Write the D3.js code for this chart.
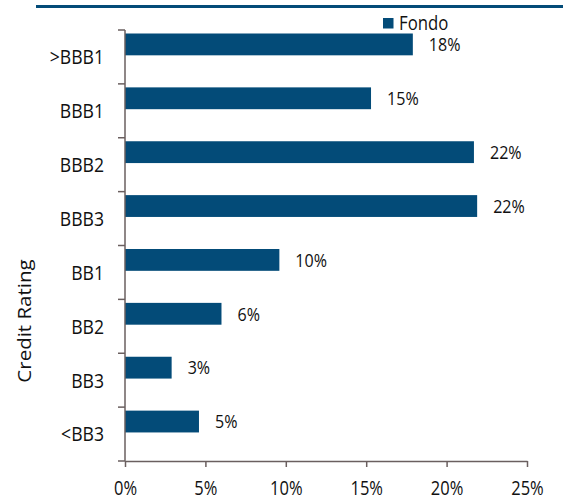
<!DOCTYPE html>
<html>
<head>
<meta charset="utf-8">
<script src="https://cdn.jsdelivr.net/npm/d3@7"></script>
<style>
  html, body { margin: 0; padding: 0; background: #fff; }
  svg { display: block; font-family: "Open Sans", sans-serif; }
</style>
</head>
<body>
<svg id="chart" width="563" height="501"></svg>
<script>
// Portfolio breakdown by credit rating
const categories = [">BBB1", "BBB1", "BBB2", "BBB3", "BB1", "BB2", "BB3", "<BB3"];
const fondo = [17.9, 15.3, 21.7, 21.9, 9.6, 6.0, 2.9, 4.6];
const xTicks = [0, 5, 10, 15, 20, 25];
const seriesName = "Fondo";
const axisTitle = "Credit Rating";

const barColor = "#034b78";
const axisColor = "#6a5f5f";
const textColor = "#111";
const squeeze = 0.86; // narrow text horizontally

const svg = d3.select("#chart");
const margin = { left: 125, right: 36, top: 30, bottom: 40 };
const W = 563, H = 501;

const x = d3.scaleLinear().domain([0, 25]).range([margin.left, W - margin.right]);
const y = d3.scaleBand().domain(categories).range([margin.top, H - margin.bottom]);

// Header rule
svg.append("rect").attr("x", 36).attr("y", 5).attr("width", W - 36).attr("height", 3).attr("fill", barColor);

// Bars (sitting in the upper part of each band)
const bw = y.bandwidth();
const barTop = c => y(c) + bw * 0.065;
const barH = bw * 0.405;
svg.append("g").selectAll("rect").data(categories).join("rect")
  .attr("x", x(0))
  .attr("y", barTop)
  .attr("width", (c, i) => x(fondo[i]) - x(0))
  .attr("height", barH)
  .attr("fill", barColor);

// Value labels
svg.append("g").selectAll("text").data(categories).join("text")
  .attr("transform", (c, i) => `translate(${x(fondo[i]) + 16},${barTop(c) + barH / 2}) scale(${squeeze},1)`)
  .attr("dy", "0.36em")
  .attr("font-size", 18.7)
  .attr("fill", textColor)
  .text((c, i) => Math.round(fondo[i]) + "%");

// Y axis: line with ticks at band boundaries
const yAxis = svg.append("g");
yAxis.append("line")
  .attr("x1", x(0)).attr("x2", x(0))
  .attr("y1", y.range()[0]).attr("y2", y.range()[1])
  .attr("stroke", axisColor).attr("stroke-width", 1.5);
const bounds = categories.map(c => y(c)).concat([y.range()[1]]);
yAxis.selectAll(".tk").data(bounds).join("line")
  .attr("class", "tk")
  .attr("x1", x(0) - 7).attr("x2", x(0))
  .attr("y1", d => d).attr("y2", d => d)
  .attr("stroke", axisColor).attr("stroke-width", 1.5);
yAxis.selectAll("text").data(categories).join("text")
  .attr("transform", c => `translate(104,${y(c) + bw / 2}) scale(${squeeze},1)`)
  .attr("dy", "0.36em")
  .attr("text-anchor", "end")
  .attr("font-size", 20.5)
  .attr("fill", textColor)
  .text(c => c);

// X axis
const xAxis = svg.append("g")
  .attr("transform", `translate(0,${y.range()[1]})`)
  .call(d3.axisBottom(x).tickValues(xTicks).tickFormat(d => d + "%").tickSize(6).tickSizeOuter(0));
xAxis.select(".domain").attr("stroke", axisColor).attr("stroke-width", 1.5);
xAxis.selectAll(".tick line").attr("stroke", axisColor).attr("stroke-width", 1.5);
xAxis.selectAll(".tick text")
  .attr("font-family", "Open Sans, sans-serif")
  .attr("font-size", 19.2)
  .attr("fill", textColor)
  .attr("y", null).attr("dy", "0.36em")
  .attr("transform", `translate(0,27) scale(${squeeze},1)`);

// Axis title
svg.append("text")
  .attr("transform", `translate(25,321) scale(${squeeze},1) rotate(-90)`)
  .attr("text-anchor", "middle")
  .attr("dy", "0.36em")
  .attr("font-size", 20.5)
  .attr("fill", textColor)
  .text(axisTitle);

// Legend
const lg = svg.append("g").attr("transform", "translate(383,18)");
lg.append("rect").attr("width", 10.5).attr("height", 10.5).attr("fill", barColor);
lg.append("text").attr("transform", `translate(16,11.5) scale(${squeeze},1)`)
  .attr("font-size", 19.5).attr("fill", textColor).text(seriesName);
</script>
</body>
</html>
